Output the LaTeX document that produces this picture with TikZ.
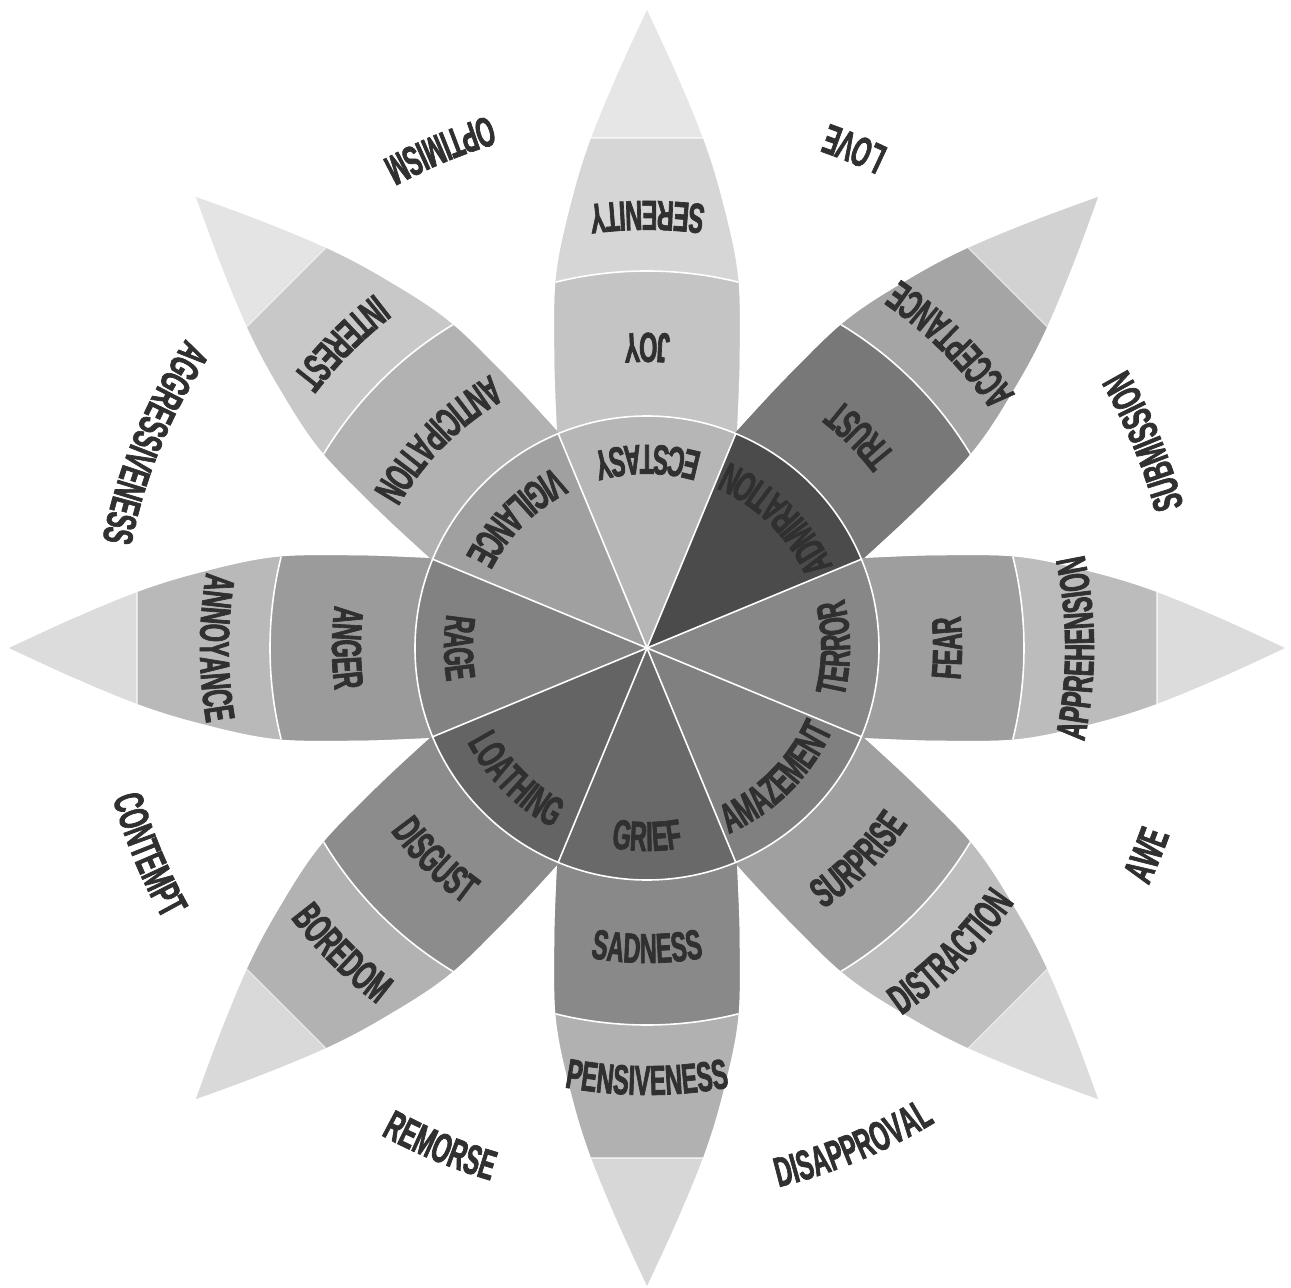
\documentclass[tikz,border=0pt]{standalone}
\usepackage{fontspec}
\newfontfamily\lblfont[FakeStretch=0.56,FakeBold=1.6]{Liberation Sans Bold}
\usetikzlibrary{decorations.text}
\definecolor{txt}{RGB}{48,48,48}
\newcommand\lbl{\lblfont\fontsize{42}{42}\selectfont\color{txt}}
\newcommand\drawpetal[4]{%
  \definecolor{tmpT}{RGB}{#2,#2,#2}\definecolor{tmpS}{RGB}{#3,#3,#3}\definecolor{tmpP}{RGB}{#4,#4,#4}%
  \begin{scope}[rotate=#1]
    \fill[tmpT] plot[smooth,tension=0.6] coordinates {(150,86) (232,90.5) (300,92.5) (375,90.5) (448,75) (508,56.5) (575,29) (638,0)} -- plot[smooth,tension=0.6] coordinates {(638,0) (575,-29) (508,-56.5) (448,-75) (375,-90.5) (300,-92.5) (232,-90.5) (150,-86)} -- cycle;
    \begin{scope}
      \clip plot[smooth,tension=0.6] coordinates {(150,86) (232,90.5) (300,92.5) (375,90.5) (448,75) (508,56.5) (575,29) (638,0)} -- plot[smooth,tension=0.6] coordinates {(638,0) (575,-29) (508,-56.5) (448,-75) (375,-90.5) (300,-92.5) (232,-90.5) (150,-86)} -- cycle;
      \fill[tmpS] (0,-130) rectangle (510,130);
      \fill[tmpP] (0,0) circle[radius=377];
      \draw[sepline] (0,0) circle[radius=377];
      \draw[tipline] (510,-130) -- (510,130);
    \end{scope}
  \end{scope}}
\newcommand\sector[2]{%
  \definecolor{tmpC}{RGB}{#2,#2,#2}%
  \fill[tmpC] (0,0) -- (#1-22.5:232) arc[start angle=#1-22.5, end angle=#1+22.5, radius=232] -- cycle;}
\newcommand\arclabel[3]{%
  \path[decorate, decoration={text along path, text align=center, text={|\lbl|#3}}]
    (#1-50:#2) arc[start angle=#1-50, end angle=#1+50, radius=#2];}
\begin{document}
\begin{tikzpicture}[x=1pt,y=1pt,
  sepline/.style={white, line width=1.6},
  tipline/.style={white, opacity=0.6, line width=1.2}]
\useasboundingbox[fill=white] (-647,-640) rectangle (644,648);
% petals: angle, tip, secondary, primary
\drawpetal{90}{230}{214}{196}
\drawpetal{45}{210}{165}{120}
\drawpetal{0}{220}{188}{158}
\drawpetal{-45}{220}{190}{160}
\drawpetal{-90}{215}{177}{137}
\drawpetal{-135}{217}{178}{140}
\drawpetal{180}{220}{185}{155}
\drawpetal{135}{228}{200}{178}
% inner sectors
\sector{90}{182}
\sector{45}{75}
\sector{0}{135}
\sector{-45}{128}
\sector{-90}{105}
\sector{-135}{100}
\sector{180}{130}
\sector{135}{160}
\foreach \a in {22.5,67.5,...,337.5} \draw[sepline] (0,0) -- (\a:232);
\draw[sepline] (0,0) circle[radius=232];
% sector labels
\arclabel{90}{203}{ECSTASY}
\arclabel{45}{203}{ADMIRATION}
\arclabel{0}{203}{TERROR}
\arclabel{-45}{203}{AMAZEMENT}
\arclabel{-90}{203}{GRIEF}
\arclabel{-135}{203}{LOATHING}
\arclabel{180}{203}{RAGE}
\arclabel{135}{203}{VIGILANCE}
% primary labels
\arclabel{90}{315}{JOY}
\arclabel{45}{315}{TRUST}
\arclabel{0}{315}{FEAR}
\arclabel{-45}{315}{SURPRISE}
\arclabel{-90}{315}{SADNESS}
\arclabel{-135}{315}{DISGUST}
\arclabel{180}{315}{ANGER}
\arclabel{135}{315}{ANTICIPATION}
% secondary labels
\arclabel{90}{447}{SERENITY}
\arclabel{45}{447}{ACCEPTANCE}
\arclabel{0}{447}{APPREHENSION}
\arclabel{-45}{447}{DISTRACTION}
\arclabel{-90}{447}{PENSIVENESS}
\arclabel{-135}{447}{BOREDOM}
\arclabel{180}{447}{ANNOYANCE}
\arclabel{135}{447}{INTEREST}
% outer labels
\arclabel{67.5}{555}{LOVE}
\arclabel{22.5}{555}{SUBMISSION}
\arclabel{-22.5}{555}{AWE}
\arclabel{-67.5}{555}{DISAPPROVAL}
\arclabel{-112.5}{555}{REMORSE}
\arclabel{-157.5}{555}{CONTEMPT}
\arclabel{157.5}{555}{AGGRESSIVENESS}
\arclabel{112.5}{555}{OPTIMISM}
\end{tikzpicture}
\end{document}
